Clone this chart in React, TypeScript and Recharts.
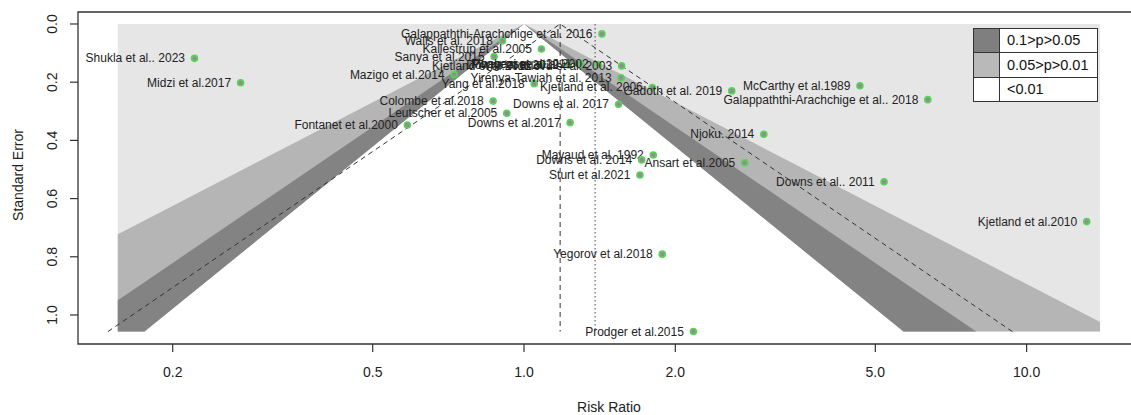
import React from 'react';
import { ComposedChart, Area, Line, Scatter, XAxis, YAxis, ReferenceArea } from 'recharts';

// studies
const studies = [
  'Shukla et al.. 2023',
  'Midzi et al.2017',
  'Fontanet et al.2000',
  'Mazigo et al.2014',
  'Colombe et al.2018',
  'Sanya et al.2015',
  'Walls et al. 2018',
  'Leutscher et al.2005',
  'Yang et al.2018',
  'Kallestrup et al.2005',
  'Kjetland et al.2012',
  'Downs et al.2012',
  'Mbabazi et al.2011',
  'Poggensee et al.2002',
  'Ndhlovu et al. 2003',
  'Yirenya-Tawiah et al. 2013',
  'Galappaththi-Arachchige et al. 2016',
  'Kjetland et al. 2006',
  'Gadoth et al. 2019',
  'Downs et al. 2017',
  'Downs et al.2017',
  'McCarthy et al.1989',
  'Galappaththi-Arachchige et al.. 2018',
  'Njoku. 2014',
  'Mayaud et al. 1992',
  'Downs et al. 2014',
  'Ansart et al.2005',
  'Sturt et al.2021',
  'Downs et al.. 2011',
  'Kjetland et al.2010',
  'Yegorov et al.2018',
  'Prodger et al.2015',
];
const riskRatios = [
  0.221, 0.273, 0.586, 0.726, 0.868, 0.872, 0.906, 0.924, 1.048, 1.083,
  1.081, 1.226, 1.298, 1.404, 1.564, 1.56, 1.429, 1.8, 2.59, 1.542,
  1.235, 4.66, 6.36, 3.0, 1.808, 1.715, 2.749, 1.701, 5.205, 13.17,
  1.884, 2.173,
];
const standardErrors = [
  0.118, 0.202, 0.347, 0.174, 0.265, 0.112, 0.058, 0.307, 0.205, 0.086,
  0.143, 0.141, 0.137, 0.139, 0.144, 0.185, 0.034, 0.218, 0.23, 0.276,
  0.339, 0.212, 0.26, 0.379, 0.45, 0.467, 0.477, 0.519, 0.542, 0.679,
  0.791, 1.057,
];

const xTickValues = [0.2, 0.5, 1, 2, 5, 10];
const xTickLabels = ['0.2', '0.5', '1.0', '2.0', '5.0', '10.0'];
const yTickValues = [0, 0.2, 0.4, 0.6, 0.8, 1.0];
const yTickLabels = ['0.0', '0.2', '0.4', '0.6', '0.8', '1.0'];

// contour z values: outer block, p<0.05 edge, p<0.10 edge; inner white region is left unpainted
const bandZ: (number | null)[] = [null, 2.576, 1.96];
const bandFills = ['#e6e6e6', '#b5b5b5', '#838383'];
const innerZ = 1.645;

const legendLabels = ['0.1>p>0.05', '0.05>p>0.01', '<0.01'];
const legendFills = ['#7f7f7f', '#b9b9b9', '#ffffff'];

const pooledRR = 1.18;
const adjustedRR = 1.385;
const shadeRange = [0.1555, 14.0];
const xDomain = [-0.8874, 1.2256];
const yDomain = [-0.0412, 1.0997];

const lg = Math.log10;
const SE_MAX = Math.max(...standardErrors);
const X_LO = lg(shadeRange[0]);
const X_HI = lg(shadeRange[1]);

const points = studies.map((label, i) => ({ x: lg(riskRatios[i]), se: standardErrors[i], label }));

const edgeAt = (x: number, z: number) => Math.min((Math.abs(x) * Math.LN10) / z, SE_MAX);

function bandData(z: number | null) {
  const xs = [X_LO, 0, X_HI];
  [innerZ, ...bandZ].forEach((zz) => {
    if (!zz) return;
    const b = (zz * SE_MAX) / Math.LN10;
    xs.push(-b, b);
  });
  const uniq = Array.from(new Set(xs.filter((v) => v >= X_LO && v <= X_HI))).sort((a, c) => a - c);
  return uniq.map((x) => ({ x, band: [z ? edgeAt(x, z) : 0, edgeAt(x, innerZ)] }));
}

const est = lg(pooledRR);
const halfWidth = (1.96 * SE_MAX) / Math.LN10;
const funnelLines = [
  { x: est - halfWidth, se: SE_MAX },
  { x: est, se: 0 },
  { x: est + halfWidth, se: SE_MAX },
];
const pooledLine = [{ x: est, se: 0 }, { x: est, se: SE_MAX }];
const adjustedLine = [{ x: lg(adjustedRR), se: 0 }, { x: lg(adjustedRR), se: SE_MAX }];

const FONT = '"Liberation Sans", Arial, sans-serif';

const StudyDot = (props: any) => {
  const { cx, cy, payload } = props;
  return (
    <g>
      <circle cx={cx} cy={cy} r={3} fill="#968a96" stroke="#52d852" strokeWidth={1.6} />
      <text
        x={cx - 9.5}
        y={cy}
        textAnchor="end"
        dominantBaseline="central"
        fontSize={12}
        fontFamily={FONT}
        fill="#222"
      >
        {payload.label}
      </text>
    </g>
  );
};

const XTick = (props: any) => {
  const { x, y, payload } = props;
  const i = xTickValues.findIndex((v) => Math.abs(lg(v) - payload.value) < 1e-9);
  return (
    <text x={x} y={y + 17.5} textAnchor="middle" dominantBaseline="central" fontSize={14} fontFamily={FONT} fill="#222">
      {xTickLabels[i]}
    </text>
  );
};

const YTick = (props: any) => {
  const { x, y, payload } = props;
  const i = yTickValues.findIndex((v) => Math.abs(v - payload.value) < 1e-9);
  return (
    <text
      x={x - 16}
      y={y}
      textAnchor="middle"
      dominantBaseline="central"
      fontSize={14}
      fontFamily={FONT}
      fill="#222"
      transform={`rotate(-90, ${x - 16}, ${y})`}
    >
      {yTickLabels[i]}
    </text>
  );
};

export default function App() {
  return (
    <div
      style={{
        position: 'absolute',
        left: 0,
        top: 0,
        width: 1131,
        height: 415,
        overflow: 'hidden',
        background: '#fff',
      }}
    >
      <ComposedChart width={1145} height={415} margin={{ top: 12, right: 5, bottom: 11, left: 8 }}>
        <XAxis
          type="number"
          dataKey="x"
          domain={xDomain}
          allowDataOverflow
          ticks={xTickValues.map(lg)}
          interval={0}
          tick={<XTick />}
          tickSize={8}
          tickLine={{ stroke: '#333', strokeWidth: 1.2 }}
          axisLine={false}
          height={60}
          label={{
            value: 'Risk Ratio',
            position: 'insideBottom',
            offset: -8,
            fontSize: 14,
            fontFamily: FONT,
            fill: '#222',
          }}
        />
        <YAxis
          type="number"
          dataKey="se"
          domain={yDomain}
          allowDataOverflow
          reversed
          ticks={yTickValues}
          interval={0}
          tick={<YTick />}
          tickSize={8}
          tickLine={{ stroke: '#333', strokeWidth: 1.2 }}
          axisLine={false}
          width={70}
          label={{
            content: ({ viewBox }: any) => (
              <text
                x={viewBox.x + 9.5}
                y={viewBox.y + viewBox.height / 2 - 3}
                textAnchor="middle"
                dominantBaseline="central"
                fontSize={14}
                fontFamily={FONT}
                fill="#222"
                transform={`rotate(-90, ${viewBox.x + 9.5}, ${viewBox.y + viewBox.height / 2 - 3})`}
              >
                Standard Error
              </text>
            ),
          }}
        />
        {bandZ.map((z, i) => (
          <Area
            key={String(z)}
            data={bandData(z)}
            dataKey="band"
            type="linear"
            stroke="none"
            fill={bandFills[i]}
            fillOpacity={1}
            dot={false}
            activeDot={false}
            isAnimationActive={false}
          />
        ))}
        <Line
          data={funnelLines}
          dataKey="se"
          type="linear"
          stroke="#333"
          strokeWidth={1}
          strokeDasharray="5 4"
          dot={false}
          activeDot={false}
          isAnimationActive={false}
        />
        <Line
          data={pooledLine}
          dataKey="se"
          type="linear"
          stroke="#333"
          strokeWidth={1}
          strokeDasharray="5 4"
          dot={false}
          activeDot={false}
          isAnimationActive={false}
        />
        <Line
          data={adjustedLine}
          dataKey="se"
          type="linear"
          stroke="#444"
          strokeWidth={1}
          strokeDasharray="1.5 2.5"
          dot={false}
          activeDot={false}
          isAnimationActive={false}
        />
        <Scatter data={points} dataKey="se" shape={<StudyDot />} isAnimationActive={false} />
        <ReferenceArea
          x1={xDomain[0]}
          x2={xDomain[1]}
          y1={yDomain[0]}
          y2={yDomain[1]}
          fill="none"
          fillOpacity={0}
          stroke="#333"
          strokeWidth={1.3}
          ifOverflow="visible"
        />
      </ComposedChart>
      <table
        style={{
          position: 'absolute',
          left: 973,
          top: 28,
          borderCollapse: 'collapse',
          fontFamily: FONT,
          fontSize: 14.5,
          color: '#111',
        }}
      >
        <tbody>
          {legendLabels.map((lab, i) => (
            <tr key={lab} style={{ height: 24.4 }}>
              <td
                style={{
                  width: 25,
                  padding: 0,
                  background: legendFills[i],
                  border: '1.5px solid #333',
                }}
              />
              <td
                style={{
                  width: 90,
                  padding: '0 0 0 7px',
                  border: '1.5px solid #333',
                  lineHeight: '21px',
                  background: '#fff',
                }}
              >
                {lab}
              </td>
            </tr>
          ))}
        </tbody>
      </table>
    </div>
  );
}
